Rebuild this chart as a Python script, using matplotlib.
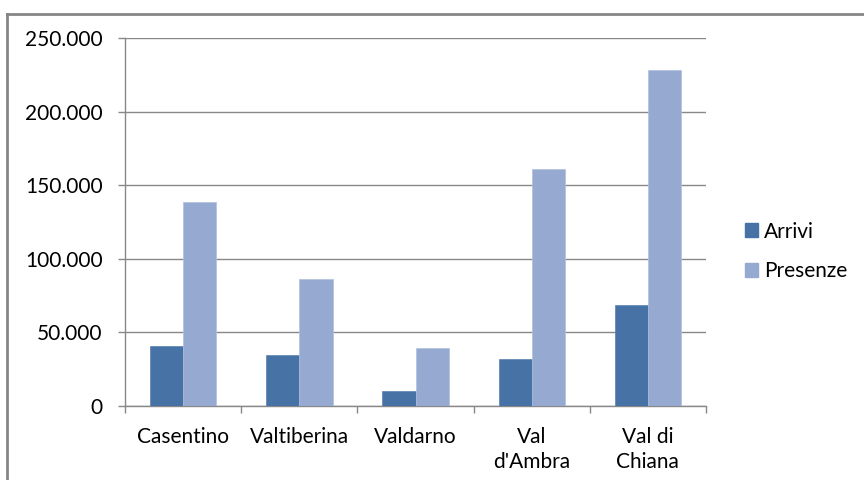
import matplotlib
matplotlib.use("Agg")
import matplotlib.pyplot as plt
import numpy as np
from matplotlib.ticker import FuncFormatter, FixedLocator
from matplotlib.patches import Rectangle
from matplotlib.lines import Line2D

categories = ["Casentino", "Valtiberina", "Valdarno", "Val\nd'Ambra", "Val di\nChiana"]
arrivi = [41000, 34600, 10200, 31700, 68800]
presenze = [138800, 86500, 39400, 161200, 228300]
series_names = ["Arrivi", "Presenze"]
yticks = [0, 50000, 100000, 150000, 200000, 250000]

plt.rcParams['font.family'] = ['Lato', 'DejaVu Sans']
c1 = '#4672A6'
c2 = '#95A9D1'
grid_c = '#888888'
fs = 15

fig = plt.figure(figsize=(8.64, 4.8), dpi=100)
ax = fig.add_axes([125/864, 1 - 406/480, (706-125)/864, (406-38)/480])

x = np.arange(len(categories))
w = 1/3.5
ax.bar(x - w/2, arrivi, width=w, color=c1, edgecolor='#5a82b0', linewidth=0.5, label=series_names[0], zorder=3)
ax.bar(x + w/2, presenze, width=w, color=c2, edgecolor='#b0c0e0', linewidth=0.5, label=series_names[1], zorder=3)

ax.set_xlim(-0.5, len(categories) - 0.5)
ax.set_ylim(0, 250000)
ax.set_yticks(yticks)
ax.yaxis.set_major_formatter(FuncFormatter(lambda v, p: f"{int(v):,}".replace(",", ".")))
ax.yaxis.grid(True, color=grid_c, linewidth=1.0, zorder=0)
ax.set_axisbelow(True)

ax.set_xticks(x)
ax.set_xticklabels(categories, linespacing=1.35)
ax.tick_params(axis='x', length=0, pad=15, labelsize=fs, colors='#000000')
ax.xaxis.set_minor_locator(FixedLocator(np.arange(-0.5, len(categories), 1.0)))
ax.tick_params(axis='x', which='minor', length=5, color=grid_c, width=1)
ax.tick_params(axis='y', length=5, color=grid_c, width=1, labelsize=fs, pad=11)

for s in ['top', 'right']:
    ax.spines[s].set_visible(False)
for s in ['left', 'bottom']:
    ax.spines[s].set_color(grid_c)
    ax.spines[s].set_linewidth(1.0)

handles = [Rectangle((0, 0), 1, 1, color=c1), Rectangle((0, 0), 1, 1, color=c2)]
fig.legend(handles, series_names, loc='center left', bbox_to_anchor=(745/864, 1 - 251.5/480),
           frameon=False, fontsize=fs, handlelength=0.63, handleheight=0.63,
           handletextpad=0.3, labelspacing=0.95, borderpad=0, borderaxespad=0)

# outer chart frame
fig.add_artist(Line2D([7/864, 1.0], [1 - 14/480, 1 - 14/480], color='#868686', linewidth=2, transform=fig.transFigure))
fig.add_artist(Line2D([7/864, 7/864], [1 - 14/480, 0], color='#868686', linewidth=2, transform=fig.transFigure))

fig.savefig("out.png", dpi=100)
